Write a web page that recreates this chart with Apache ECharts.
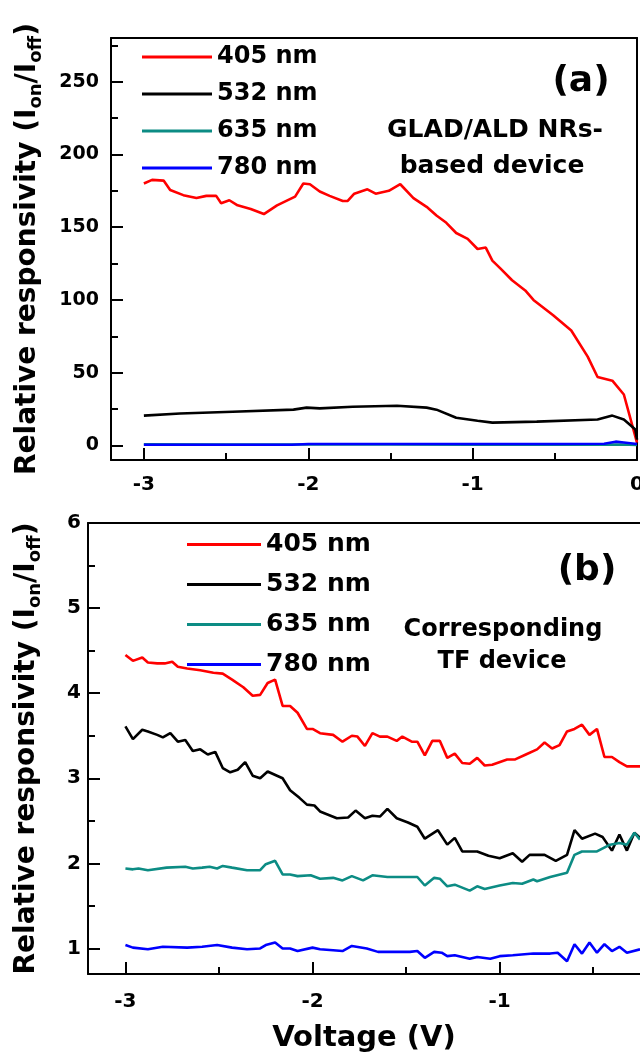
<!DOCTYPE html>
<html>
<head>
<meta charset="utf-8">
<script src="https://cdn.jsdelivr.net/npm/echarts@6/dist/echarts.min.js"></script>
<style>
  html, body { margin: 0; padding: 0; background: #fff; }
  #chart { width: 640px; height: 1057px; }
</style>
</head>
<body>
<div id="chart"></div>
<script>
// series names
const names = ['405 nm', '532 nm', '635 nm', '780 nm'];
const colors = ['#ff0000', '#000000', '#0c8c84', '#0000ff'];

// panel (a): GLAD/ALD NRs-based device, [voltage, Ion/Ioff]
const a405 = [[-3.00,180],[-2.95,182.5],[-2.88,182],[-2.84,175.5],[-2.76,172],[-2.68,170],[-2.62,171.5],[-2.56,171.5],[-2.53,166.5],[-2.48,168.5],[-2.43,165],[-2.35,162.5],[-2.27,159],[-2.19,165],[-2.08,171],[-2.03,180],[-1.99,179.5],[-1.93,174.5],[-1.87,171.5],[-1.79,168],[-1.76,168],[-1.72,173],[-1.64,176],[-1.59,173],[-1.51,175],[-1.44,179.5],[-1.36,170],[-1.28,164],[-1.22,158],[-1.16,153],[-1.10,146],[-1.03,142],[-0.97,135],[-0.92,136],[-0.88,127],[-0.83,121.5],[-0.76,113.5],[-0.68,106.5],[-0.63,100],[-0.51,89.5],[-0.40,79],[-0.30,61],[-0.24,47],[-0.15,44.5],[-0.08,35],[0,2]];
const a532 = [[-3.00,20.5],[-2.78,22],[-2.46,23.2],[-2.09,24.6],[-2.01,26],[-1.93,25.5],[-1.73,26.6],[-1.46,27.3],[-1.28,26],[-1.22,24.6],[-1.10,19],[-0.97,17],[-0.88,15.7],[-0.61,16.4],[-0.24,17.8],[-0.15,20.5],[-0.08,17.8],[-0.01,11],[0,4]];
const a635 = [[-3.00,0.8],[-2.5,0.7],[-2.0,0.7],[-1.5,0.7],[-1.0,0.6],[-0.5,0.6],[-0.1,0.6],[0,0.4]];
const a780 = [[-3.00,0.5],[-2.5,0.5],[-2.1,0.5],[-2.0,1.0],[-1.5,1.0],[-1.0,1.0],[-0.5,1.0],[-0.2,1.2],[-0.13,2.6],[-0.08,2.0],[0,1.0]];

// panel (b): corresponding TF device
const b405 = [[-3.00,4.45],[-2.96,4.38],[-2.91,4.42],[-2.88,4.36],[-2.83,4.35],[-2.79,4.35],[-2.75,4.37],[-2.72,4.31],[-2.67,4.29],[-2.60,4.27],[-2.53,4.24],[-2.48,4.23],[-2.43,4.16],[-2.37,4.07],[-2.32,3.97],[-2.28,3.98],[-2.24,4.12],[-2.20,4.16],[-2.16,3.85],[-2.12,3.85],[-2.08,3.77],[-2.03,3.58],[-2.00,3.58],[-1.96,3.53],[-1.89,3.51],[-1.84,3.43],[-1.79,3.50],[-1.76,3.49],[-1.72,3.38],[-1.68,3.53],[-1.64,3.49],[-1.60,3.49],[-1.55,3.44],[-1.52,3.49],[-1.47,3.43],[-1.44,3.43],[-1.40,3.27],[-1.36,3.44],[-1.32,3.44],[-1.28,3.24],[-1.24,3.29],[-1.20,3.18],[-1.16,3.17],[-1.12,3.24],[-1.08,3.15],[-1.04,3.16],[-0.96,3.22],[-0.92,3.22],[-0.86,3.28],[-0.80,3.34],[-0.76,3.42],[-0.72,3.35],[-0.68,3.39],[-0.64,3.55],[-0.60,3.58],[-0.56,3.63],[-0.52,3.51],[-0.48,3.58],[-0.44,3.25],[-0.40,3.25],[-0.36,3.19],[-0.32,3.14],[-0.25,3.14]];
const b532 = [[-3.00,3.61],[-2.96,3.46],[-2.91,3.57],[-2.88,3.55],[-2.83,3.51],[-2.80,3.48],[-2.76,3.53],[-2.72,3.43],[-2.68,3.45],[-2.64,3.32],[-2.60,3.34],[-2.56,3.28],[-2.52,3.31],[-2.48,3.12],[-2.44,3.07],[-2.40,3.10],[-2.36,3.19],[-2.32,3.03],[-2.28,3.00],[-2.24,3.08],[-2.19,3.03],[-2.16,3.00],[-2.12,2.86],[-2.07,2.77],[-2.03,2.69],[-1.99,2.68],[-1.96,2.61],[-1.87,2.53],[-1.81,2.54],[-1.77,2.62],[-1.72,2.53],[-1.68,2.56],[-1.64,2.55],[-1.60,2.64],[-1.55,2.53],[-1.49,2.48],[-1.44,2.43],[-1.40,2.29],[-1.33,2.39],[-1.28,2.22],[-1.24,2.30],[-1.20,2.14],[-1.12,2.14],[-1.06,2.09],[-1.00,2.06],[-0.93,2.12],[-0.88,2.02],[-0.84,2.10],[-0.76,2.10],[-0.70,2.03],[-0.64,2.10],[-0.60,2.39],[-0.56,2.29],[-0.49,2.35],[-0.45,2.31],[-0.40,2.15],[-0.36,2.34],[-0.32,2.15],[-0.28,2.36],[-0.25,2.30]];
const b635 = [[-3.00,1.94],[-2.96,1.93],[-2.93,1.94],[-2.88,1.92],[-2.78,1.95],[-2.68,1.96],[-2.64,1.94],[-2.59,1.95],[-2.55,1.96],[-2.51,1.94],[-2.48,1.97],[-2.43,1.95],[-2.35,1.92],[-2.28,1.92],[-2.25,1.99],[-2.20,2.03],[-2.16,1.87],[-2.12,1.87],[-2.08,1.85],[-2.01,1.86],[-1.96,1.82],[-1.89,1.83],[-1.84,1.80],[-1.79,1.85],[-1.73,1.80],[-1.68,1.86],[-1.60,1.84],[-1.53,1.84],[-1.44,1.84],[-1.40,1.74],[-1.35,1.83],[-1.32,1.82],[-1.28,1.73],[-1.24,1.75],[-1.16,1.68],[-1.12,1.73],[-1.08,1.70],[-1.00,1.74],[-0.93,1.77],[-0.88,1.76],[-0.82,1.81],[-0.80,1.79],[-0.73,1.84],[-0.64,1.89],[-0.60,2.10],[-0.56,2.14],[-0.48,2.14],[-0.41,2.22],[-0.36,2.24],[-0.32,2.22],[-0.28,2.36],[-0.25,2.28]];
const b780 = [[-3.00,1.04],[-2.96,1.01],[-2.88,0.99],[-2.80,1.02],[-2.67,1.01],[-2.59,1.02],[-2.51,1.04],[-2.43,1.01],[-2.35,0.99],[-2.28,1.00],[-2.25,1.04],[-2.20,1.07],[-2.16,1.00],[-2.12,1.00],[-2.08,0.97],[-2.00,1.01],[-1.96,0.99],[-1.89,0.98],[-1.84,0.97],[-1.79,1.03],[-1.71,1.00],[-1.65,0.96],[-1.55,0.96],[-1.48,0.96],[-1.44,0.97],[-1.40,0.89],[-1.35,0.96],[-1.31,0.95],[-1.28,0.91],[-1.24,0.92],[-1.16,0.88],[-1.12,0.90],[-1.05,0.88],[-1.00,0.91],[-0.93,0.92],[-0.82,0.94],[-0.73,0.94],[-0.69,0.95],[-0.64,0.85],[-0.60,1.05],[-0.56,0.94],[-0.52,1.07],[-0.48,0.95],[-0.44,1.05],[-0.40,0.97],[-0.36,1.02],[-0.32,0.95],[-0.25,0.99]];

// tick positions
const aXMajor = [-3, -2, -1, 0];
const aXMinor = [-2.5, -1.5, -0.5];
const aYMajor = [0, 50, 100, 150, 200, 250];
const aYMinor = [25, 75, 125, 175, 225, 275];
const bXMajor = [-3, -2, -1];
const bXMinor = [-2.5, -1.5, -0.5];
const bYMajor = [1, 2, 3, 4, 5, 6];
const bYMinor = [1.5, 2.5, 3.5, 4.5, 5.5];

const FONT = 'DejaVu Sans';
const axisLine = { show: true, onZero: false, lineStyle: { color: '#000', width: 2 } };

function majorAxis(grid, pos, min, max, ticks, fontSize, margin) {
  return {
    type: 'value', gridIndex: grid, position: pos, min: min, max: max,
    axisLine: axisLine,
    axisTick: { show: true, inside: true, length: 12, customValues: ticks, lineStyle: { color: '#000', width: 2 } },
    axisLabel: { show: true, customValues: ticks, margin: margin, color: '#000', fontFamily: FONT, fontWeight: 'bold', fontSize: fontSize },
    splitLine: { show: false }
  };
}
// minor ticks live on an overlay grid so they do not fight for the same side
function minorAxis(grid, pos, min, max, ticks) {
  return {
    type: 'value', gridIndex: grid, position: pos, min: min, max: max,
    axisLine: { show: false, onZero: false },
    axisTick: { show: true, inside: true, length: 7, customValues: ticks, lineStyle: { color: '#000', width: 2 } },
    axisLabel: { show: false },
    splitLine: { show: false }
  };
}
function frameAxis(grid, pos, min, max) {
  return {
    type: 'value', gridIndex: grid, position: pos, min: min, max: max,
    axisLine: axisLine, axisTick: { show: false }, axisLabel: { show: false }, splitLine: { show: false }
  };
}

const yTitle = 'Relative responsivity (I{s|on}/I{s|off})';
const yTitleStyle = {
  color: '#000', fontFamily: FONT, fontWeight: 'bold', fontSize: 28, lineHeight: 34,
  rich: { s: { fontFamily: FONT, fontWeight: 'bold', fontSize: 18, lineHeight: 18, verticalAlign: 'bottom', color: '#000' } }
};

const xa0 = majorAxis(0, 'bottom', -3.2, 0, aXMajor, 20, 15);
const xb0 = majorAxis(1, 'bottom', -3.2, -0.25, bXMajor, 20, 18);
xb0.name = 'Voltage (V)';
xb0.nameLocation = 'middle';
xb0.nameGap = 50;
xb0.nameTextStyle = { color: '#000', fontFamily: FONT, fontWeight: 'bold', fontSize: 29 };

const ya0 = majorAxis(0, 'left', -10, 280, aYMajor, 19, 12);
ya0.name = yTitle; ya0.nameLocation = 'middle'; ya0.nameGap = 66; ya0.nameTextStyle = yTitleStyle;
const yb0 = majorAxis(1, 'left', 0.7, 6, bYMajor, 20, 7);
yb0.name = yTitle; yb0.nameLocation = 'middle'; yb0.nameGap = 44; yb0.nameTextStyle = yTitleStyle;

const lineSeries = (name, i, data, xi, yi) => ({
  name: name, type: 'line', xAxisIndex: xi, yAxisIndex: yi, data: data,
  symbol: 'none', showSymbol: false, smooth: false,
  lineStyle: { color: colors[i], width: 2.6 }, itemStyle: { color: colors[i] },
  emphasis: { disabled: true }, animation: false
});

const legendBase = {
  orient: 'vertical', icon: 'rect', itemHeight: 3,
  textStyle: { color: '#000', fontFamily: FONT, fontWeight: 'bold', lineHeight: 24 },
  data: names, selectedMode: false, padding: 0
};

const gridA = { left: 111, top: 38, width: 526, height: 422, containLabel: false, outerBoundsMode: 'none' };
const gridB = { left: 88, top: 523, width: 552, height: 451, containLabel: false, outerBoundsMode: 'none' };

const option = {
  animation: false,
  backgroundColor: '#fff',
  grid: [gridA, gridB, Object.assign({}, gridA), Object.assign({}, gridB)],
  xAxis: [
    xa0,
    frameAxis(0, 'top', -3.2, 0),
    xb0,
    frameAxis(1, 'top', -3.2, -0.25),
    minorAxis(2, 'bottom', -3.2, 0, aXMinor),
    minorAxis(3, 'bottom', -3.2, -0.25, bXMinor)
  ],
  yAxis: [
    ya0,
    frameAxis(0, 'right', -10, 280),
    yb0,
    minorAxis(2, 'left', -10, 280, aYMinor),
    minorAxis(3, 'left', 0.7, 6, bYMinor)
  ],
  legend: [
    Object.assign({}, legendBase, { left: 142, top: 45, itemWidth: 70, itemGap: 13,
      textStyle: Object.assign({}, legendBase.textStyle, { fontSize: 24 }) }),
    Object.assign({}, legendBase, { left: 187, top: 532, itemWidth: 74, itemGap: 15,
      textStyle: Object.assign({}, legendBase.textStyle, { fontSize: 25 }) })
  ],
  graphic: [
    { type: 'text', x: 581, y: 82, style: { text: '(a)', font: 'bold 36px "DejaVu Sans"', fill: '#000', align: 'center', verticalAlign: 'middle', textAlign: 'center', textVerticalAlign: 'middle' } },
    { type: 'text', x: 495, y: 130, style: { text: 'GLAD/ALD NRs-', font: 'bold 25px "DejaVu Sans"', fill: '#000', align: 'center', verticalAlign: 'middle', textAlign: 'center', textVerticalAlign: 'middle' } },
    { type: 'text', x: 492, y: 166, style: { text: 'based device', font: 'bold 25px "DejaVu Sans"', fill: '#000', align: 'center', verticalAlign: 'middle', textAlign: 'center', textVerticalAlign: 'middle' } },
    { type: 'text', x: 587, y: 571, style: { text: '(b)', font: 'bold 36px "DejaVu Sans"', fill: '#000', align: 'center', verticalAlign: 'middle', textAlign: 'center', textVerticalAlign: 'middle' } },
    { type: 'text', x: 503, y: 630, style: { text: 'Corresponding', font: 'bold 24px "DejaVu Sans"', fill: '#000', align: 'center', verticalAlign: 'middle', textAlign: 'center', textVerticalAlign: 'middle' } },
    { type: 'text', x: 502, y: 662, style: { text: 'TF device', font: 'bold 24px "DejaVu Sans"', fill: '#000', align: 'center', verticalAlign: 'middle', textAlign: 'center', textVerticalAlign: 'middle' } }
  ],
  series: [
    lineSeries(names[0], 0, a405, 0, 0),
    lineSeries(names[1], 1, a532, 0, 0),
    lineSeries(names[2], 2, a635, 0, 0),
    lineSeries(names[3], 3, a780, 0, 0),
    lineSeries(names[0], 0, b405, 2, 2),
    lineSeries(names[1], 1, b532, 2, 2),
    lineSeries(names[2], 2, b635, 2, 2),
    lineSeries(names[3], 3, b780, 2, 2)
  ]
};

const myChart = echarts.init(document.getElementById('chart'), null, { renderer: 'canvas' });
myChart.setOption(option);
</script>
</body>
</html>
